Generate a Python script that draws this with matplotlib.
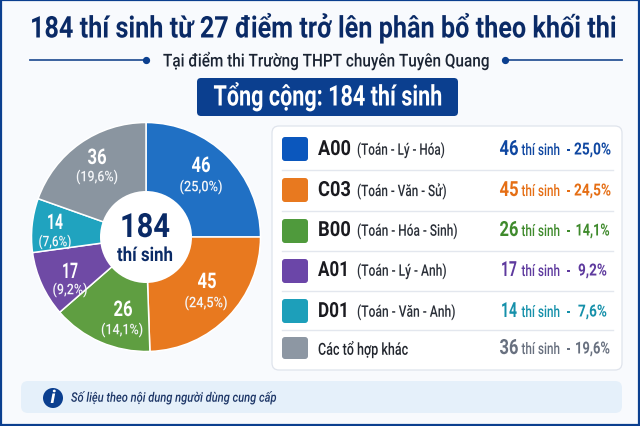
import matplotlib
matplotlib.use("Agg")
import matplotlib.pyplot as plt
from matplotlib.patches import FancyBboxPatch, Rectangle, Circle
from matplotlib.patheffects import AbstractPathEffect
from matplotlib.transforms import Affine2D, Bbox

plt.rcParams['font.family'] = ['Roboto', 'DejaVu Sans']

codes = ["A00", "C03", "B00", "A01", "D01", ""]
subjects = ["(Toán - Lý - Hóa)", "(Toán - Văn - Sử)", "(Toán - Hóa - Sinh)",
            "(Toán - Lý - Anh)", "(Toán - Văn - Anh)", "Các tổ hợp khác"]
counts = [46, 45, 26, 17, 14, 36]
shares = ["25,0%", "24,5%", "14,1%", "9,2%", "7,6%", "19,6%"]
slice_colors = ["#2070c4", "#e8791f", "#5f9e41", "#6f4aa5", "#20a3bf", "#8a95a0"]
swatch_colors = ["#0b57bd", "#e8791f", "#4f9a3c", "#6b46a8", "#1d9fba", "#8d97a3"]
text_colors = ["#0f47a1", "#e56e14", "#3f8a2c", "#5e3a9e", "#1590aa", "#68707f"]
NAVY = "#0a2a66"
BLUE = "#0b3f8f"

fig = plt.figure(figsize=(6.4, 4.27), dpi=100, facecolor="#f8fafd")
ax = fig.add_axes([0, 0, 1, 1])
ax.set_xlim(0, 640)
ax.set_ylim(427, 0)
ax.axis("off")
renderer = fig.canvas.get_renderer()


class Condense(AbstractPathEffect):
    """Squeezes glyph outlines horizontally about a fixed display x."""

    def __init__(self, anchor, factor):
        super().__init__()
        self.anchor = anchor
        self.factor = factor

    def draw_path(self, renderer, gc, tpath, affine, rgbFace=None):
        squeeze = (Affine2D().translate(-self.anchor, 0)
                   .scale(self.factor, 1).translate(self.anchor, 0))
        renderer.draw_path(gc, tpath, affine + squeeze, rgbFace)


def label(x, y, s, size, width, color, ha="center", weight="medium", italic=False, z=5):
    """Places text and condenses it to the given pixel width."""
    t = ax.text(x, y, s, fontsize=size, color=color, ha=ha, va="center",
                fontweight=weight,
                fontstyle="italic" if italic else "normal", zorder=z)
    full = t.get_window_extent(renderer)
    factor = width / full.width
    anchor = ax.transData.transform((x, y))[0]
    t.set_path_effects([Condense(anchor, factor)])
    x0 = anchor + (full.x0 - anchor) * factor
    x1 = anchor + (full.x1 - anchor) * factor
    squeezed = Bbox.from_extents(x0, full.y0, x1, full.y1)
    t.get_window_extent = lambda *a, **k: squeezed
    return t


def box(x, y, w, h, r, fc, ec="none", lw=0, z=1):
    ax.add_patch(FancyBboxPatch((x + r, y + r), w - 2 * r, h - 2 * r,
                                boxstyle=f"round,pad={r},rounding_size={r}",
                                fc=fc, ec=ec, lw=lw, zorder=z))


# frame
ax.add_patch(Rectangle((0.75, 0.75), 638.5, 425.5, fc="none", ec=BLUE, lw=1.6, zorder=6))

# heading
label(324, 29, "184 thí sinh từ 27 điểm trở lên phân bổ theo khối thi",
      21.5, 588, NAVY, weight="bold")
label(326, 61.5, "Tại điểm thi Trường THPT chuyên Tuyên Quang", 12.8, 326, "#1b2433")
ax.plot([30, 146], [61, 61], color="#2c5597", lw=1.3)
ax.plot([505, 622], [61, 61], color="#2c5597", lw=1.3)
ax.plot([146, 505], [61, 61], ls="none", marker="o", ms=4.2, color=BLUE)

# total banner
box(197, 79, 261, 38, 4, BLUE)
label(328, 98, "Tổng cộng: 184 thí sinh", 20.5, 229, "white", weight="bold")

# donut: the y axis points down, so a rising data angle runs clockwise on screen
pct_labels = [f"({s})" for s in shares]
wedges, _ = ax.pie(counts, colors=slice_colors, startangle=-90, counterclock=True,
                   center=(146, 238), radius=114.5,
                   wedgeprops=dict(edgecolor="white", linewidth=1.1))
ax.set_xlim(0, 640)
ax.set_ylim(427, 0)
ax.set_aspect("auto")
ax.add_patch(Circle((146, 238), 46, fc="white", ec="none", zorder=3))
label(145, 229, str(sum(counts)), 24, 50, NAVY, weight="bold")
label(145, 257, "thí sinh", 14, 56, NAVY, weight="bold")

count_pos = [(201, 167), (207, 283), (123, 311), (70, 273), (55, 224), (97, 159)]
pct_pos = [(201, 188), (206, 304), (122, 331), (70, 291), (55, 243), (97, 178)]
pct_w = [43, 43, 42, 35, 33, 42]
count_w = [19, 19, 19, 16, 16, 19]
for i in range(6):
    label(*count_pos[i], str(counts[i]), 15.5, count_w[i], "white", weight="bold")
    label(*pct_pos[i], pct_labels[i], 10.5, pct_w[i], "#f4f6f9")

# legend card
box(272, 127, 350, 244, 7, "white", ec="#dfe4ec", lw=0.9)
row_tops = [138, 179, 220, 260, 300, 338]
row_bottoms = [162, 203, 244, 284, 324, 360]
row_mid = [151, 192, 232, 272, 313, 350]
sep_y = [171, 212, 252, 292, 331]
code_w = [33, 33, 33, 31, 31]
subject_w = [88, 90, 101, 90, 99, 90]
share_w = [37, 37, 34, 29, 29, 35]
for y in sep_y:
    ax.plot([282, 613], [y, y], color="#e3e7ee", lw=1, zorder=2)

for i in range(6):
    cy = row_mid[i]
    box(282, row_tops[i], 26, row_bottoms[i] - row_tops[i], 3, swatch_colors[i], z=2)
    if codes[i]:
        label(318, cy - 0.5, codes[i], 15, code_w[i], "#1a1a1f", ha="left", weight="bold")
        label(357, cy, subjects[i], 11.5, subject_w[i], "#2a2f38", ha="left")
    else:
        label(318, cy, subjects[i], 12, subject_w[i], "#22262e", ha="left")
    c = text_colors[i]
    label(509, cy - 0.5, str(counts[i]), 15, count_w[i], c, weight="bold")
    label(541, cy + 0.5, "thí sinh", 11.5, 39, c)
    label(568.5, cy + 0.5, "-", 11, 3.5, c)
    label(592.5, cy, shares[i], 12, share_w[i], c, weight="bold")

# note strip
box(21, 382, 601, 32, 7, "#e5f0fa")
ax.add_patch(Circle((53, 399), 10, fc=BLUE, ec="none", zorder=3))
label(53, 399, "i", 13, 5, "white", weight="bold", italic=True)
label(71, 399, "Số liệu theo nội dung người dùng cung cấp", 9.5, 206, "#1c3566",
      ha="left", italic=True)

fig.savefig("out.png", dpi=100, facecolor=fig.get_facecolor())
